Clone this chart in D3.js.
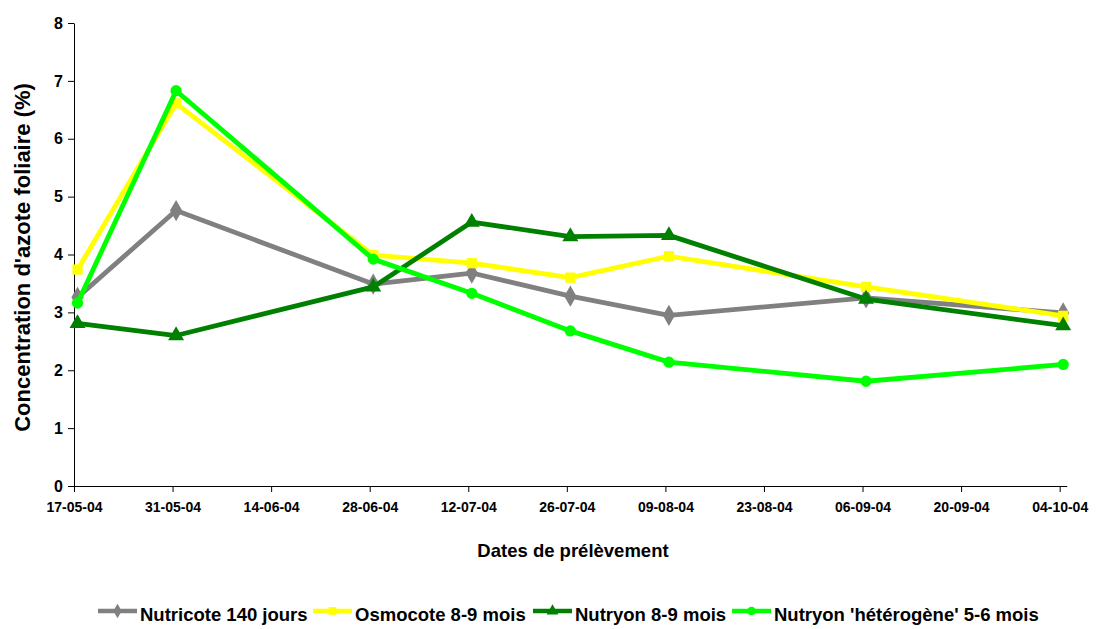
<!DOCTYPE html>
<html>
<head>
<meta charset="utf-8">
<script src="https://cdn.jsdelivr.net/npm/d3@7"></script>
<style>
html, body { margin: 0; padding: 0; background: #fff; }
svg { display: block; font-family: "Liberation Sans", Arial, sans-serif; font-weight: bold; }
</style>
</head>
<body>
<svg id="chart" width="1099" height="629"></svg>
<script>
// ---- data ----
const sampleDates = ["17-05-04", "31-05-04", "28-06-04", "12-07-04", "26-07-04", "09-08-04", "06-09-04", "04-10-04"];
const tickLabels = ["17-05-04", "31-05-04", "14-06-04", "28-06-04", "12-07-04", "26-07-04", "09-08-04", "23-08-04", "06-09-04", "20-09-04", "04-10-04"];
const yTicks = [0, 1, 2, 3, 4, 5, 6, 7, 8];
const seriesNames = ["Nutricote 140 jours", "Osmocote 8-9 mois", "Nutryon 8-9 mois", "Nutryon 'hétérogène' 5-6 mois"];
const nutricote = [3.26, 4.76, 3.49, 3.68, 3.28, 2.95, 3.25, 2.99];
const osmocote = [3.74, 6.61, 3.99, 3.85, 3.60, 3.97, 3.44, 2.94];
const nutryon = [2.81, 2.60, 3.44, 4.56, 4.31, 4.33, 3.23, 2.77];
const nutryonHet = [3.16, 6.83, 3.92, 3.33, 2.68, 2.14, 1.81, 2.10];

const seriesValues = [nutricote, osmocote, nutryon, nutryonHet];
const colors = ["#808080", "#FFFF00", "#008000", "#00FF00"];
const symbols = [d3.symbolDiamond, d3.symbolSquare, d3.symbolTriangle, d3.symbolCircle];

const parse = d3.utcParse("%d-%m-%y");
const svg = d3.select("#chart");

const plotLeft = 74, plotRight = 1066.7, plotTop = 23, plotBottom = 486;
const firstDay = parse(tickLabels[0]);
const lastDay = d3.utcDay.offset(parse(tickLabels[tickLabels.length - 1]), 1);
const x = d3.scaleUtc().domain([firstDay, lastDay]).range([plotLeft, plotRight]);
const y = d3.scaleLinear().domain([0, 8]).range([plotBottom, plotTop]);
const center = d => d3.utcHour.offset(parse(d), 12);

// axes
const xAxis = d3.axisBottom(x)
  .tickValues(tickLabels.map(parse))
  .tickFormat(d3.utcFormat("%d-%m-%y"))
  .tickSize(6).tickSizeOuter(0);
const gx = svg.append("g").attr("transform", `translate(0,${plotBottom})`).call(xAxis);
gx.select(".domain").attr("stroke", "#000").attr("stroke-width", 1);
gx.selectAll(".tick line").attr("stroke", "#000");
gx.selectAll(".tick text").attr("font-size", 14).attr("font-weight", "bold")
  .attr("font-family", "Liberation Sans, Arial, sans-serif").attr("fill", "#000").attr("dy", "1.2em");

const yAxis = d3.axisLeft(y).tickValues(yTicks).tickFormat(d3.format("d")).tickSize(6).tickSizeOuter(0);
const gy = svg.append("g").attr("transform", `translate(${plotLeft},0)`).call(yAxis);
gy.select(".domain").attr("stroke", "#000").attr("stroke-width", 1);
gy.selectAll(".tick line").attr("stroke", "#000");
gy.selectAll(".tick text").attr("font-size", 16).attr("font-weight", "bold")
  .attr("font-family", "Liberation Sans, Arial, sans-serif").attr("fill", "#000").attr("x", -11);

// series
const line = d3.line().x((d, i) => x(center(sampleDates[i]))).y(d => y(d));
const sizes = [130, 105, 110, 100];
seriesValues.forEach((vals, s) => {
  const g = svg.append("g");
  g.append("path").datum(vals).attr("d", line)
    .attr("fill", "none").attr("stroke", colors[s]).attr("stroke-width", 4.8)
    .attr("stroke-linejoin", "round");
  g.selectAll("path.m").data(vals).join("path").attr("class", "m")
    .attr("transform", (d, i) => `translate(${x(center(sampleDates[i]))},${y(d)})`)
    .attr("d", d3.symbol().type(symbols[s]).size(sizes[s]))
    .attr("fill", colors[s]);
});

// axis titles
svg.append("text").attr("x", 573).attr("y", 557).attr("text-anchor", "middle")
  .attr("font-size", 18.5).text("Dates de prélèvement");
svg.append("text").attr("transform", "translate(30,257.5) rotate(-90)").attr("text-anchor", "middle")
  .attr("font-size", 22).text("Concentration d'azote foliaire (%)");

// legend
const legendX = [98, 313, 533, 732];
const leg = svg.append("g");
seriesNames.forEach((name, s) => {
  const g = leg.append("g").attr("transform", `translate(${legendX[s]},611)`);
  g.append("line").attr("x1", 0).attr("x2", 39).attr("y1", 0).attr("y2", 0)
    .attr("stroke", colors[s]).attr("stroke-width", 4.5);
  g.append("path").attr("transform", "translate(19.5,0)")
    .attr("d", d3.symbol().type(symbols[s]).size(60)).attr("fill", colors[s]);
  g.append("text").attr("x", 42).attr("y", 10).attr("font-size", 18.5).text(name);
});
</script>
</body>
</html>
